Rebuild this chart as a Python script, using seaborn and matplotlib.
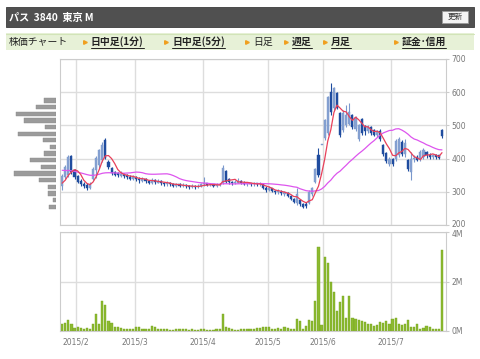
import numpy as np
import pandas as pd
import matplotlib
matplotlib.use("Agg")
import matplotlib.pyplot as plt
import matplotlib.transforms as mtrans
from matplotlib.patches import Rectangle
from matplotlib.lines import Line2D
import seaborn as sns

# --- データ (日足, 2015/1/26 - 2015/7/24) ---
month_labels = ['2015/2', '2015/3', '2015/4', '2015/5', '2015/6', '2015/7']
month_start = [5, 24, 46, 67, 85, 107]   # 各月の最初の営業日 (index)

opens = [318, 345, 350, 408, 365, 348, 332, 325, 320, 312, 340, 366, 381, 396, 456, 390, 372, 360, 356, 348,
         355, 350, 346, 338, 345, 340, 334, 338, 334, 328, 335, 328, 332, 326, 322, 328, 322, 318, 322, 318,
         320, 316, 314, 318, 314, 318, 322, 326, 320, 322, 318, 320, 326, 362, 338, 330, 326, 328, 334, 328,
         322, 326, 322, 325, 322, 322, 312, 305, 310, 302, 298, 300, 294, 296, 288, 278, 266, 275, 262, 262,
         266, 292, 330, 410, 441, 462, 478, 600, 552, 597, 537, 486, 502, 505, 531, 490, 458, 518, 498, 484,
         494, 486, 470, 484, 440, 416, 384, 400, 398, 412, 450, 414, 396, 360, 398, 405, 398, 404, 420, 412,
         404, 410, 410, 486]
highs = [355, 382, 412, 412, 370, 352, 338, 330, 325, 330, 375, 408, 430, 450, 462, 395, 375, 364, 360, 362,
         358, 353, 350, 350, 348, 344, 346, 342, 336, 342, 338, 340, 335, 330, 334, 330, 325, 328, 325, 326,
         322, 320, 324, 320, 324, 328, 345, 328, 326, 324, 325, 326, 380, 366, 342, 334, 336, 341, 336, 332,
         330, 328, 330, 328, 330, 324, 316, 316, 312, 306, 308, 304, 302, 298, 290, 282, 311, 278, 266, 268,
         305, 314, 372, 432, 442, 520, 590, 627, 615, 600, 540, 545, 561, 566, 535, 528, 505, 522, 502, 500,
         498, 490, 486, 488, 445, 420, 404, 402, 460, 466, 455, 458, 400, 420, 410, 410, 426, 432, 424, 416,
         414, 414, 412, 490]
lows = [305, 340, 345, 355, 340, 325, 316, 312, 305, 308, 335, 342, 372, 390, 398, 370, 352, 348, 345, 344,
        342, 340, 336, 335, 332, 326, 330, 326, 322, 324, 324, 325, 320, 316, 318, 318, 314, 315, 314, 314,
        311, 308, 310, 308, 310, 314, 318, 316, 316, 314, 314, 316, 322, 326, 324, 320, 322, 325, 324, 320,
        318, 316, 318, 316, 318, 308, 299, 302, 298, 294, 294, 290, 288, 284, 274, 266, 260, 258, 251, 252,
        262, 288, 326, 345, 440, 455, 472, 532, 545, 548, 466, 480, 496, 500, 488, 484, 452, 470, 472, 478,
        472, 468, 464, 452, 408, 386, 378, 378, 392, 406, 408, 406, 362, 335, 390, 392, 394, 400, 402, 400,
        398, 400, 398, 462]
closes = [348, 375, 405, 360, 345, 330, 322, 318, 312, 325, 370, 402, 426, 441, 402, 375, 357, 352, 350, 355,
          348, 344, 340, 345, 338, 335, 340, 332, 328, 335, 330, 332, 326, 322, 328, 322, 318, 322, 318, 320,
          316, 314, 318, 314, 318, 322, 326, 320, 322, 318, 320, 322, 372, 330, 330, 326, 330, 334, 328, 324,
          326, 322, 325, 322, 324, 312, 305, 310, 302, 298, 302, 295, 298, 288, 278, 270, 292, 262, 255, 256,
          298, 310, 368, 352, 441, 516, 585, 540, 612, 552, 472, 537, 530, 540, 495, 522, 500, 478, 484, 496,
          478, 472, 482, 460, 414, 392, 400, 384, 452, 458, 414, 446, 368, 398, 402, 396, 420, 426, 410, 405,
          410, 404, 402, 468]
# 表示期間より前の終値 (移動平均の計算用)
prior_closes = [395, 392, 390, 388, 385, 383, 380, 378, 376, 375, 373, 372, 370, 368, 366, 364,
                362, 360, 358, 355, 330, 330, 312, 310]
# 出来高 (百万株)
volumes = [0.27, 0.31, 0.44, 0.27, 0.11, 0.15, 0.11, 0.09, 0.12, 0.07, 0.27, 0.67, 0.28, 1.22, 1.05, 0.40,
           0.31, 0.16, 0.15, 0.11, 0.09, 0.09, 0.08, 0.07, 0.17, 0.15, 0.09, 0.09, 0.07, 0.19, 0.15, 0.09,
           0.09, 0.09, 0.09, 0.04, 0.03, 0.07, 0.07, 0.07, 0.07, 0.04, 0.07, 0.04, 0.04, 0.07, 0.08, 0.04,
           0.03, 0.04, 0.07, 0.07, 0.67, 0.17, 0.12, 0.07, 0.04, 0.04, 0.07, 0.07, 0.09, 0.07, 0.09, 0.11,
           0.12, 0.16, 0.16, 0.16, 0.07, 0.07, 0.11, 0.09, 0.16, 0.12, 0.07, 0.07, 0.47, 0.40, 0.08, 0.20,
           0.44, 0.40, 1.21, 3.41, 0.24, 2.98, 2.76, 1.99, 1.56, 0.81, 1.16, 1.43, 0.54, 1.41, 0.54, 0.49,
           0.45, 0.40, 0.35, 0.28, 0.29, 0.20, 0.24, 0.36, 0.31, 0.40, 0.28, 0.47, 0.52, 0.29, 0.24, 0.27,
           0.43, 0.16, 0.15, 0.28, 0.09, 0.12, 0.20, 0.15, 0.09, 0.08, 0.08, 3.27]
# 価格帯別出来高
profile_prices = [575, 555, 535, 515, 495, 475, 455, 435, 415, 395, 375, 355, 335, 315, 295, 275, 255]
profile_vols = [12, 20, 40, 32, 11, 38, 13, 6, 12, 26, 15, 42, 17, 8, 8, 3, 7]

df = pd.DataFrame({'open': opens, 'high': highs, 'low': lows, 'close': closes, 'vol': volumes})
df['idx'] = np.arange(len(df))
all_close = pd.Series(prior_closes + closes)
df['ma5'] = all_close.rolling(5).mean().iloc[len(prior_closes):].values
df['ma25'] = all_close.rolling(25).mean().iloc[len(prior_closes):].values

sns.set_style('white')
plt.rcParams['font.family'] = ['DejaVu Sans']
jp = ['Noto Sans CJK JP', 'DejaVu Sans']

W, H = 480, 359
fig = plt.figure(figsize=(W / 100, H / 100), dpi=100)


def fx(px):
    return px / W


def fy(py):
    return 1 - py / H


grid_c = '#dddddd'
spine_c = '#cccccc'
tick_c = '#777777'
tick_fs = 5.5
xlim = (-0.7, 124.3)
grid_x = [m - 0.5 for m in month_start]

# ヘッダー
fig.patches.append(Rectangle((fx(6), fy(27)), fx(468), 20 / H, transform=fig.transFigure,
                             facecolor='#505050', edgecolor='#3c3c3c', lw=0.6))
fig.text(fx(9), fy(17.5), 'パス  3840  東京 M', family=jp, fontsize=7.3, color='white',
         weight='bold', va='center', ha='left')
fig.patches.append(Rectangle((fx(442), fy(23)), fx(26), 12 / H, transform=fig.transFigure,
                             facecolor='#f4f4f4', edgecolor='#999999', lw=0.6))
fig.text(fx(455), fy(17.3), '更新', family=jp, fontsize=5.5, color='#333333', va='center', ha='center')

# ナビゲーション
fig.patches.append(Rectangle((fx(6), fy(50)), fx(468), 17 / H, transform=fig.transFigure,
                             facecolor='#e7f1d7', edgecolor='none'))
fig.add_artist(Line2D([fx(6), fx(474)], [fy(33.5), fy(33.5)], transform=fig.transFigure,
                      color='#d2e4b8', lw=0.8))
fig.text(fx(9), fy(42), '株価チャート', family=jp, fontsize=7.1, color='#222222', va='center')
nav = [(85, '日中足(1分)', True), (166, '日中足(5分)', True), (247, '日足', False),
       (286, '週足', True), (325, '月足', True), (396, '証金･信用', True)]
nav_texts = []
for x0, label, link in nav:
    fig.add_artist(Line2D([fx(x0)], [fy(42)], transform=fig.transFigure, marker='>', markersize=2.6,
                          color='#f0a020', lw=0))
    t = fig.text(fx(x0 + 6), fy(42), label, family=jp, fontsize=7.1, color='#222222', va='center',
                 weight='bold' if link else 'normal')
    nav_texts.append((t, link))

# 株価
ax = fig.add_axes([fx(60), fy(225), fx(386), 166 / H])
up = df['close'] >= df['open']
for mask, face, edge in [(up, '#86a2d2', '#7a98cc'), (~up, '#1f4c9f', '#1f4c9f')]:
    d = df[mask]
    ax.vlines(d['idx'], d['low'], d['high'], color=edge, lw=0.8, zorder=2)
    body = (d['close'] - d['open']).abs().clip(lower=1.5)
    ax.bar(d['idx'], body, bottom=d[['open', 'close']].min(axis=1), width=0.68,
           color=face, edgecolor=edge, lw=0.3, zorder=2)
sns.lineplot(data=df, x='idx', y='ma25', color='#dd55ee', lw=0.9, ax=ax, zorder=3)
sns.lineplot(data=df, x='idx', y='ma5', color='#e8405a', lw=0.9, ax=ax, zorder=4)
ax.set_xlim(*xlim)
ax.set_ylim(200, 700)
ax.set_yticks(range(200, 701, 100))
ax.set_xticks(grid_x)
ax.set_xticklabels([])
ax.yaxis.tick_right()
ax.tick_params(axis='y', labelsize=tick_fs, labelcolor=tick_c, length=2.5, color=spine_c, pad=1.5)
ax.tick_params(axis='x', length=0)
ax.grid(True, color=grid_c, lw=1.0)
ax.set_axisbelow(True)
ax.set_xlabel('')
ax.set_ylabel('')
for s in ax.spines.values():
    s.set_color(spine_c)
    s.set_linewidth(0.8)

# 価格帯別出来高
axp = fig.add_axes([fx(13), fy(225), fx(43), 166 / H], sharey=ax)
axp.barh(profile_prices, profile_vols, height=13, color='#9b9b9b', edgecolor='#8a8a8a', lw=0.3)
axp.set_xlim(43, 0)
axp.axis('off')

# 出来高
axv = fig.add_axes([fx(60), fy(331), fx(386), 99 / H])
sns.barplot(data=df, x='idx', y='vol', native_scale=True, color='#8cba30', saturation=1,
            width=0.7, edgecolor='#78a41e', linewidth=0.3, ax=axv, zorder=2)
axv.set_xlim(*xlim)
axv.set_ylim(0, 4)
axv.set_yticks([0, 2, 4])
axv.set_yticklabels(['0M', '2M', '4M'])
axv.yaxis.tick_right()
axv.set_xticks(grid_x)
axv.set_xticklabels(month_labels)
axv.tick_params(axis='y', labelsize=tick_fs, labelcolor=tick_c, length=2.5, color=spine_c, pad=1.5)
axv.tick_params(axis='x', labelsize=tick_fs, labelcolor=tick_c, length=3, color=grid_c, pad=1.5)
axv.grid(True, color=grid_c, lw=1.0)
axv.set_axisbelow(True)
axv.set_xlabel('')
axv.set_ylabel('')
for s in axv.spines.values():
    s.set_color(spine_c)
    s.set_linewidth(0.8)

# 200 と 4M のラベルが重ならないよう少しずらす
ax.get_yticklabels()[0].set_transform(ax.get_yticklabels()[0].get_transform()
                                      + mtrans.ScaledTranslation(0, 1.2 / 72, fig.dpi_scale_trans))
axv.get_yticklabels()[-1].set_transform(axv.get_yticklabels()[-1].get_transform()
                                        + mtrans.ScaledTranslation(0, -1.2 / 72, fig.dpi_scale_trans))

# リンクの下線
fig.canvas.draw()
r = fig.canvas.get_renderer()
for t, link in nav_texts:
    if not link:
        continue
    bb = t.get_window_extent(r).transformed(fig.transFigure.inverted())
    fig.add_artist(Line2D([bb.x0, bb.x1], [fy(47.5), fy(47.5)], transform=fig.transFigure,
                          color='#222222', lw=0.7))

fig.savefig('out.png', dpi=100)
